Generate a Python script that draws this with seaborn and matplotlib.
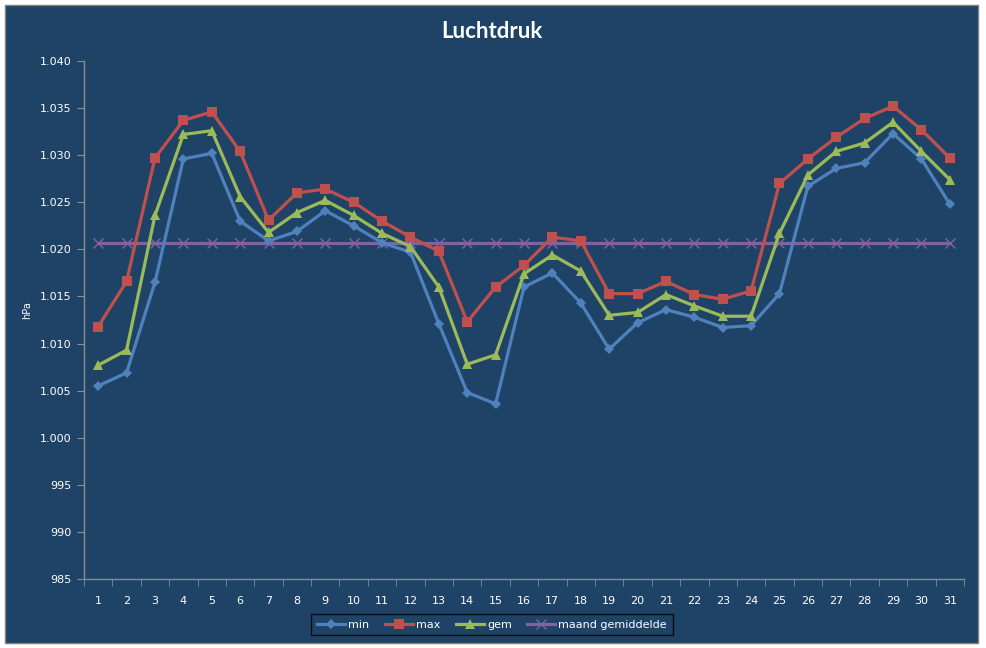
import numpy as np
import pandas as pd
import matplotlib
matplotlib.use('Agg')
import matplotlib.pyplot as plt
import matplotlib.ticker as mticker
from matplotlib.patches import Rectangle
import seaborn as sns

# data (hPa per dag)
dagen = list(range(1, 32))
p_min = [1005.5, 1006.9, 1016.5, 1029.6, 1030.2, 1023.0, 1020.9, 1021.9, 1024.1, 1022.5,
         1020.7, 1019.7, 1012.1, 1004.8, 1003.6, 1016.0, 1017.5, 1014.3, 1009.4, 1012.2,
         1013.6, 1012.8, 1011.7, 1011.9, 1015.3, 1026.7, 1028.6, 1029.2, 1032.3, 1029.6, 1024.8]
p_max = [1011.8, 1016.6, 1029.7, 1033.7, 1034.6, 1030.4, 1023.1, 1026.0, 1026.4, 1025.0,
         1023.0, 1021.3, 1019.8, 1012.3, 1016.0, 1018.3, 1021.3, 1020.9, 1015.3, 1015.3,
         1016.6, 1015.2, 1014.7, 1015.6, 1027.0, 1029.6, 1031.9, 1033.9, 1035.2, 1032.7, 1029.7]
p_gem = [1007.7, 1009.3, 1023.6, 1032.2, 1032.6, 1025.6, 1021.8, 1023.9, 1025.2, 1023.6,
         1021.7, 1020.3, 1016.0, 1007.8, 1008.8, 1017.4, 1019.4, 1017.7, 1013.0, 1013.3,
         1015.2, 1014.0, 1012.9, 1012.9, 1021.7, 1027.9, 1030.4, 1031.3, 1033.5, 1030.4, 1027.4]
maand_gem = [1020.7] * 31

reeksen = ['min', 'max', 'gem', 'maand gemiddelde']
kleuren = ['#4F81BD', '#C0504D', '#9BBB59', '#8064A2']
markers = ['D', 's', '^', 'x']
msizes = [5, 7, 7, 7]

df = pd.DataFrame({'dag': dagen, 'min': p_min, 'max': p_max, 'gem': p_gem,
                   'maand gemiddelde': maand_gem})

bg = '#1F4367'
fg = '#FFFFFF'
grijs = '#8C8C8C'

W, H = 987, 648
fig = plt.figure(figsize=(W / 100, H / 100), dpi=100, facecolor='white')
fig.patches.append(Rectangle((5 / W, 1 - 643 / H), 973 / W, 638 / H, transform=fig.transFigure,
                             facecolor=bg, edgecolor='#7F7F7F', linewidth=1, zorder=-10))

ax = fig.add_axes([84 / W, 1 - 579 / H, (964 - 84) / W, (579 - 61) / H])
ax.set_zorder(1)
ax.patch.set_alpha(0)

for naam, kleur, mk, ms in zip(reeksen, kleuren, markers, msizes):
    sns.lineplot(data=df, x='dag', y=naam, ax=ax, color=kleur, marker=mk, markersize=ms,
                 linewidth=2.3, markeredgecolor=kleur, markeredgewidth=1 if mk == 'x' else 0,
                 label=naam, zorder=3 if naam != 'maand gemiddelde' else 2)

ax.set_xlim(0.5, 31.5)
ax.set_ylim(985, 1040)
ax.set_xticks(dagen)
ax.set_xticks(np.arange(0.5, 32, 1), minor=True)
ax.tick_params(axis='x', which='major', length=0, pad=12, colors=fg, labelsize=8)
ax.tick_params(axis='x', which='minor', length=5, color=grijs, direction='out')
ax.set_yticks(np.arange(985, 1041, 5))
ax.yaxis.set_major_formatter(mticker.FuncFormatter(lambda v, p: f'{v:,.0f}'.replace(',', '.')))
ax.tick_params(axis='y', length=5, colors=fg, labelsize=8, pad=4)
ax.tick_params(axis='y', color=grijs)
for s in ['top', 'right']:
    ax.spines[s].set_visible(False)
for s in ['left', 'bottom']:
    ax.spines[s].set_color(grijs)
    ax.spines[s].set_linewidth(1)
ax.set_xlabel('')
ax.set_ylabel('hPa', color=fg, fontsize=7, labelpad=0)
ax.yaxis.set_label_coords(-52 / 880, (579 - 310) / 518)
ax.grid(False)

leg = fig.legend(*ax.get_legend_handles_labels(), loc='center', bbox_to_anchor=(492 / W, 1 - 624.5 / H),
                 ncol=4, frameon=True, fontsize=8, handlelength=2.5, columnspacing=1.4,
                 handletextpad=0.3, borderpad=0.5, fancybox=False)
ax.get_legend().remove()
leg.get_frame().set_facecolor(bg)
leg.get_frame().set_edgecolor('black')
leg.get_frame().set_linewidth(1)
for t in leg.get_texts():
    t.set_color(fg)

fig.text(492 / W, 1 - 31 / H, 'Luchtdruk', ha='center', va='center', color=fg,
         fontsize=16, fontweight='bold', family=['Lato', 'DejaVu Sans'])

fig.savefig('out.png', dpi=100, facecolor='white')
